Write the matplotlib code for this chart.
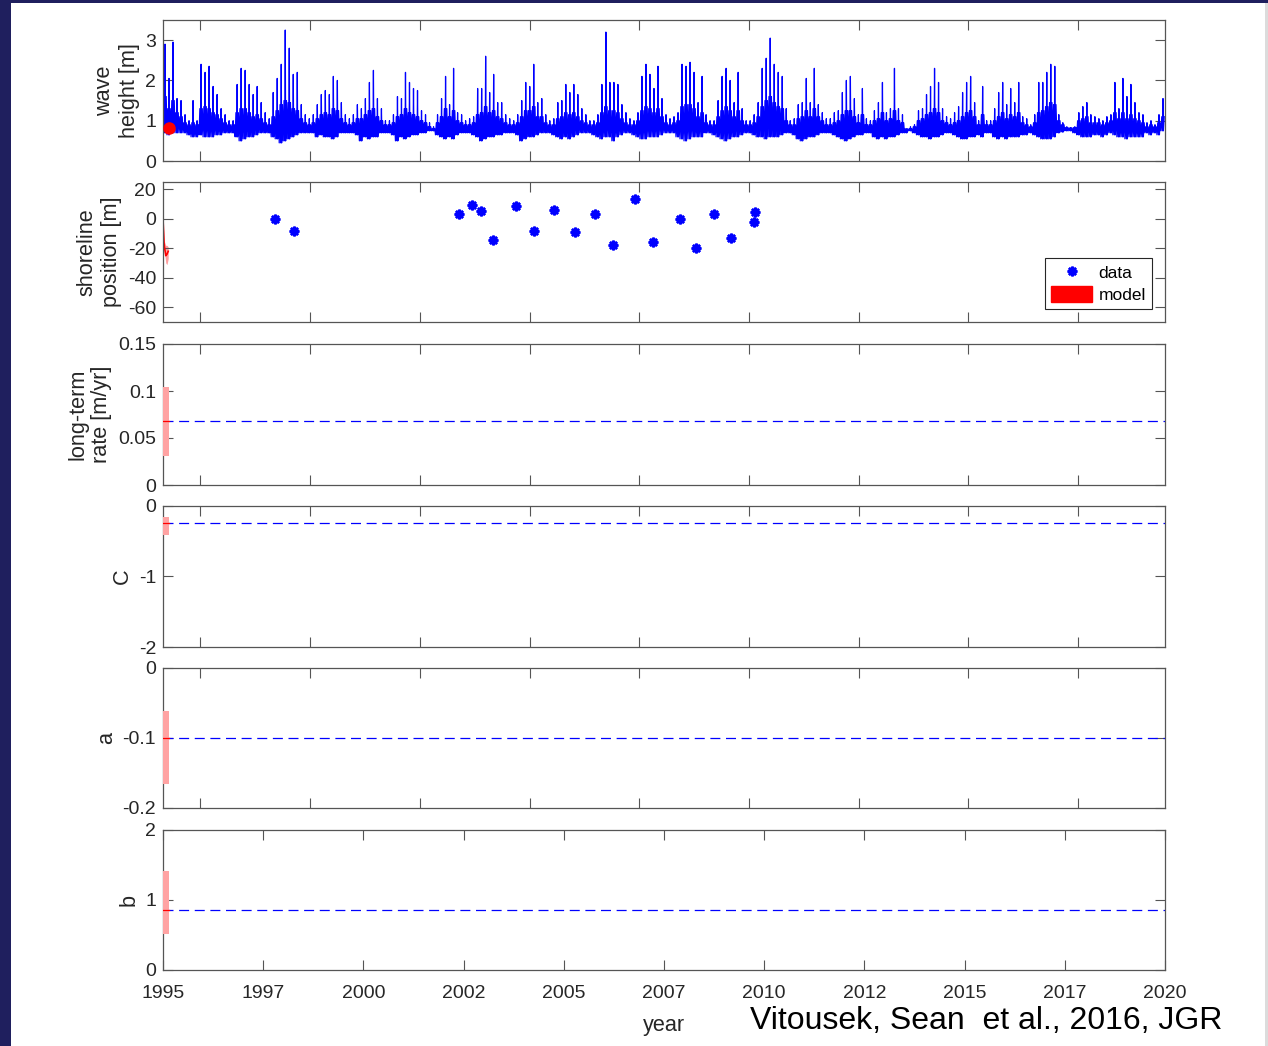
import matplotlib
matplotlib.use('Agg')
import matplotlib.pyplot as plt
from matplotlib.patches import Rectangle, Patch
from matplotlib.lines import Line2D
from matplotlib.ticker import FuncFormatter
import numpy as np

plt.rcParams['font.family'] = ['Liberation Sans', 'DejaVu Sans']

# ---------------- data ----------------
# wave height, read per 0.1-year bin (1995.0 ... 2019.9): spike top, top of dense band, bottom
bin_start = 1995.0
bin_width = 0.1
hs_high = [
    2.9, 2.05, 2.95, 1.55, 1.5, 1.15, 1.0, 1.5, 1.0, 2.4,
    2.2, 2.35, 1.85, 1.65, 1.3, 1.15, 1.0, 1.0, 1.9, 2.3,
    2.25, 1.9, 1.65, 1.85, 1.45, 1.2, 1.05, 1.7, 2.05, 2.4,
    3.25, 2.8, 2.15, 2.2, 1.4, 1.15, 1.05, 1.15, 1.4, 1.65,
    1.75, 1.65, 2.1, 2.0, 1.45, 1.15, 1.05, 1.15, 1.4, 1.3,
    1.55, 1.95, 2.25, 1.55, 1.3, 1.0, 1.0, 1.15, 1.6, 1.55,
    2.2, 1.95, 1.8, 1.75, 1.25, 1.15, 0.95, 0.85, 1.15, 1.55,
    2.1, 1.4, 2.3, 1.2, 1.15, 1.0, 1.05, 1.1, 1.8, 1.8,
    2.6, 1.7, 2.15, 1.45, 1.45, 1.15, 1.05, 1.0, 1.15, 1.5,
    1.95, 1.85, 2.4, 1.45, 1.55, 1.15, 1.0, 1.05, 1.45, 1.5,
    1.9, 1.7, 1.9, 1.65, 1.3, 1.15, 1.0, 1.0, 1.15, 1.9,
    3.2, 1.95, 1.95, 1.9, 1.4, 1.2, 1.05, 1.0, 1.2, 2.1,
    2.4, 2.15, 1.8, 2.35, 1.55, 1.15, 1.05, 1.1, 1.2, 2.4,
    2.35, 2.45, 2.2, 1.45, 2.1, 1.15, 1.0, 1.0, 1.5, 2.1,
    2.3, 2.0, 1.45, 2.2, 1.3, 1.0, 1.0, 1.15, 1.45, 2.3,
    2.55, 3.05, 2.4, 2.2, 2.1, 1.3, 1.0, 1.05, 1.4, 1.45,
    2.05, 1.45, 2.3, 1.4, 1.2, 1.05, 1.05, 1.2, 1.25, 1.7,
    2.0, 2.1, 1.55, 1.15, 1.8, 1.05, 1.0, 1.25, 1.45, 1.95,
    1.2, 1.3, 2.3, 1.3, 1.15, 0.8, 0.85, 0.9, 1.25, 1.3,
    1.65, 1.85, 2.3, 1.95, 1.3, 1.1, 1.05, 1.2, 1.35, 1.7,
    1.95, 2.1, 1.45, 1.0, 1.85, 1.0, 1.0, 1.3, 1.7, 1.95,
    1.4, 1.8, 1.45, 1.95, 1.1, 1.05, 0.9, 1.15, 1.95, 1.95,
    2.2, 2.4, 2.35, 1.15, 0.95, 0.85, 0.83, 0.85, 1.2, 1.35,
    1.45, 1.15, 1.1, 1.05, 1.0, 1.1, 1.15, 1.95, 1.3, 2.05,
    1.6, 1.9, 1.45, 1.2, 1.15, 0.95, 1.0, 0.9, 1.15, 1.55,
]
hs_core = [
    1.6, 1.3, 1.5, 1.2, 1.1, 0.95, 0.9, 0.95, 0.9, 1.3,
    1.35, 1.3, 1.2, 1.15, 1.05, 0.95, 0.9, 0.9, 1.2, 1.3,
    1.3, 1.2, 1.1, 1.15, 1.05, 0.95, 0.9, 1.1, 1.25, 1.4,
    1.5, 1.45, 1.3, 1.25, 1.05, 0.95, 0.9, 0.95, 1.05, 1.15,
    1.2, 1.15, 1.3, 1.25, 1.05, 0.95, 0.9, 0.95, 1.05, 1.05,
    1.15, 1.25, 1.3, 1.1, 1.0, 0.9, 0.9, 0.95, 1.1, 1.15,
    1.3, 1.2, 1.15, 1.1, 1.0, 0.95, 0.85, 0.8, 0.95, 1.1,
    1.3, 1.1, 1.25, 1.0, 0.95, 0.9, 0.9, 0.95, 1.15, 1.2,
    1.35, 1.2, 1.25, 1.1, 1.05, 0.95, 0.9, 0.9, 0.95, 1.1,
    1.25, 1.25, 1.35, 1.1, 1.1, 0.95, 0.9, 0.9, 1.05, 1.1,
    1.2, 1.15, 1.2, 1.1, 1.0, 0.95, 0.9, 0.9, 0.95, 1.2,
    1.35, 1.25, 1.25, 1.2, 1.05, 0.95, 0.9, 0.9, 1.0, 1.25,
    1.35, 1.3, 1.2, 1.3, 1.1, 0.95, 0.9, 0.95, 1.0, 1.35,
    1.4, 1.4, 1.3, 1.1, 1.2, 0.95, 0.9, 0.9, 1.1, 1.25,
    1.35, 1.25, 1.1, 1.25, 1.0, 0.9, 0.9, 0.95, 1.1, 1.35,
    1.5, 1.6, 1.45, 1.35, 1.3, 1.0, 0.9, 0.9, 1.05, 1.1,
    1.25, 1.1, 1.3, 1.1, 1.0, 0.9, 0.9, 0.95, 1.0, 1.15,
    1.25, 1.25, 1.1, 0.95, 1.15, 0.9, 0.9, 1.0, 1.05, 1.2,
    1.0, 1.05, 1.25, 1.0, 0.95, 0.8, 0.8, 0.85, 1.0, 1.05,
    1.15, 1.2, 1.3, 1.2, 1.0, 0.95, 0.9, 0.95, 1.0, 1.1,
    1.2, 1.25, 1.1, 0.9, 1.15, 0.9, 0.9, 1.0, 1.1, 1.2,
    1.05, 1.15, 1.1, 1.2, 0.95, 0.9, 0.85, 0.95, 1.2, 1.25,
    1.35, 1.45, 1.4, 1.0, 0.9, 0.83, 0.82, 0.83, 1.0, 1.05,
    1.1, 0.95, 0.95, 0.95, 0.9, 0.95, 1.0, 1.2, 1.05, 1.2,
    1.05, 1.15, 1.05, 1.0, 0.95, 0.85, 0.9, 0.85, 0.95, 1.1,
]
hs_low = [
    0.7, 0.65, 0.7, 0.7, 0.7, 0.7, 0.65, 0.6, 0.6, 0.65,
    0.6, 0.6, 0.6, 0.65, 0.65, 0.7, 0.7, 0.7, 0.6, 0.5,
    0.55, 0.6, 0.6, 0.65, 0.7, 0.7, 0.7, 0.6, 0.55, 0.45,
    0.5, 0.55, 0.6, 0.65, 0.7, 0.7, 0.7, 0.7, 0.6, 0.65,
    0.6, 0.6, 0.55, 0.6, 0.7, 0.7, 0.7, 0.7, 0.65, 0.5,
    0.6, 0.55, 0.6, 0.6, 0.7, 0.7, 0.7, 0.65, 0.5, 0.6,
    0.55, 0.6, 0.65, 0.65, 0.7, 0.7, 0.75, 0.75, 0.65, 0.6,
    0.55, 0.6, 0.55, 0.65, 0.7, 0.7, 0.7, 0.65, 0.6, 0.5,
    0.55, 0.6, 0.6, 0.65, 0.65, 0.7, 0.7, 0.7, 0.65, 0.5,
    0.55, 0.6, 0.6, 0.65, 0.7, 0.7, 0.7, 0.65, 0.6, 0.55,
    0.6, 0.55, 0.6, 0.65, 0.7, 0.7, 0.7, 0.65, 0.6, 0.55,
    0.6, 0.6, 0.5, 0.6, 0.65, 0.7, 0.7, 0.65, 0.6, 0.55,
    0.55, 0.6, 0.6, 0.6, 0.65, 0.7, 0.7, 0.7, 0.6, 0.55,
    0.5, 0.55, 0.6, 0.6, 0.6, 0.7, 0.7, 0.65, 0.6, 0.55,
    0.5, 0.55, 0.6, 0.6, 0.65, 0.7, 0.7, 0.65, 0.6, 0.6,
    0.55, 0.6, 0.6, 0.6, 0.65, 0.7, 0.7, 0.65, 0.55, 0.5,
    0.55, 0.6, 0.6, 0.65, 0.7, 0.7, 0.7, 0.65, 0.6, 0.55,
    0.5, 0.55, 0.6, 0.65, 0.65, 0.7, 0.7, 0.6, 0.55, 0.6,
    0.55, 0.6, 0.6, 0.65, 0.7, 0.7, 0.75, 0.7, 0.65, 0.6,
    0.6, 0.55, 0.6, 0.6, 0.65, 0.7, 0.7, 0.65, 0.6, 0.55,
    0.55, 0.6, 0.6, 0.65, 0.6, 0.7, 0.7, 0.6, 0.55, 0.6,
    0.55, 0.6, 0.6, 0.6, 0.65, 0.65, 0.7, 0.65, 0.6, 0.55,
    0.55, 0.55, 0.6, 0.7, 0.72, 0.75, 0.75, 0.7, 0.65, 0.6,
    0.6, 0.6, 0.65, 0.65, 0.6, 0.65, 0.7, 0.65, 0.6, 0.6,
    0.55, 0.6, 0.6, 0.6, 0.6, 0.7, 0.65, 0.7, 0.65, 0.75,
]

# shoreline observations
shore_years = [1997.80, 1998.27, 2002.38, 2002.70, 2002.93, 2003.24, 2003.81,
               2004.26, 2004.75, 2005.27, 2005.79, 2006.23, 2006.78, 2007.22,
               2007.89, 2008.29, 2008.74, 2009.18, 2009.77, 2009.75]
shore_values = [0.1, -8.3, 3.1, 9.6, 5.3, -14.6, 8.7, -8.0, 6.0, -8.9, 3.1,
                -17.6, 13.7, -15.9, 0.1, -20.0, 3.1, -13.0, 4.6, -2.0]

# model state (animation frame just after start)
model_now = 1995.15
wave_now = 0.82
model_t = [1995.0, 1995.03, 1995.07, 1995.10, 1995.13]
model_shore = [0.0, -18.0, -25.0, -24.0, -22.0]
model_shore_lo = [0.0, -21.0, -30.0, -31.0, -27.0]
model_shore_hi = [0.0, -15.0, -18.0, -18.0, -19.0]

param_t = [1995.0, 1995.14]
rate_true, rate_lo, rate_hi = 0.068, 0.031, 0.104
C_true, C_lo, C_hi = -0.24, -0.41, -0.15
a_true, a_lo, a_hi = -0.10, -0.166, -0.061
b_true, b_lo, b_hi = 0.855, 0.51, 1.42

bottom_ticks = [1995, 1997.5, 2000, 2002.5, 2005, 2007.5, 2010, 2012.5, 2015, 2017.5, 2020]
bottom_labels = ['1995', '1997', '2000', '2002', '2005', '2007', '2010', '2012', '2015', '2017', '2020']
top_tick_days = [340, 1340, 2340, 3340, 4340, 5340, 6340, 7340, 8340]  # datenum multiples of 1000

# ---------------- figure ----------------
W, H = 1268, 1046
fig = plt.figure(figsize=(W / 100, H / 100), dpi=100)
fig.patch.set_facecolor('white')
navy = '#1f1f5e'
fig.add_artist(Rectangle((0, 0), 11 / W, 1, transform=fig.transFigure, color=navy, lw=0))
fig.add_artist(Rectangle((0, 1 - 3 / H), 1, 3 / H, transform=fig.transFigure, color=navy, lw=0))
fig.add_artist(Rectangle((1 - 3 / W, 0), 3 / W, 1 - 3 / H, transform=fig.transFigure, color='#dcdcdc', lw=0))

rows = [(20, 161), (182, 322), (344, 485), (506, 647), (668, 808), (830, 970)]
left = 163 / W
width = 1002 / W
axes = []
for top, bot in rows:
    ax = fig.add_axes([left, 1 - bot / H, width, (bot - top) / H])
    axes.append(ax)

tc = '#262626'
spine_c = '#555555'
top_ticks = [1995 + d / 365.25 for d in top_tick_days]
gfmt = FuncFormatter(lambda v, p: ('%g' % v) if abs(v) > 1e-12 else '0')

for i, ax in enumerate(axes):
    ax.set_xlim(1995, 2020)
    for s in ax.spines.values():
        s.set_color(spine_c)
        s.set_linewidth(0.9)
    ax.tick_params(direction='in', length=7, width=0.8, color=spine_c,
                   top=True, right=True, labelsize=14, labelcolor=tc, pad=5)
    ax.yaxis.set_major_formatter(gfmt)
    if i < 5:
        ax.set_xticks(top_ticks)
        ax.set_xticklabels([])
    else:
        ax.set_xticks(bottom_ticks)
        ax.set_xticklabels(bottom_labels)
        ax.tick_params(axis='x', pad=11)

lab_kw = dict(fontsize=15.6, color=tc, labelpad=4, linespacing=1.2)

# wave height
ax = axes[0]
xs, ys = [], []
w = bin_width
for i in range(len(hs_high)):
    t0 = bin_start + i * w
    xs += [t0, t0 + 0.2 * w, t0 + 0.4 * w, t0 + 0.5 * w, t0 + 0.6 * w, t0 + 0.8 * w]
    ys += [hs_low[i], hs_core[i], hs_low[i], hs_high[i], hs_low[i], hs_core[i]]
ax.plot(xs, ys, color='#0000ff', lw=0.9)
ax.plot([model_now], [wave_now], 'o', color='red', ms=8, mec='red', zorder=5)
ax.set_ylim(0, 3.5)
ax.set_yticks([0, 1, 2, 3])
ax.set_ylabel('wave\nheight [m]', **lab_kw)

# shoreline
ast = (8, 2, 0)
ax = axes[1]
ax.fill_between(model_t, model_shore_lo, model_shore_hi, color='#ff9f9f', lw=0)
ax.plot(model_t, model_shore, color='red', lw=1.2)
ax.plot(shore_years, shore_values, ls='none', marker=ast, color='#0000ff', ms=7, mew=1.8)
ax.set_ylim(-70, 25)
ax.set_yticks([-60, -40, -20, 0, 20])
ax.set_ylabel('shoreline\nposition [m]', **lab_kw)
handles = [Line2D([], [], ls='none', marker=ast, color='#0000ff', ms=7, mew=1.8),
           Patch(facecolor='red', edgecolor='red')]
leg = ax.legend(handles, ['data', 'model'], loc='lower right', bbox_to_anchor=(0.987, 0.093),
                borderaxespad=0, fontsize=12.5, handlelength=2.4, handleheight=1.0,
                handletextpad=0.35, borderpad=0.35, labelspacing=0.3, fancybox=False,
                framealpha=1, edgecolor=tc)
leg.get_frame().set_linewidth(0.8)

# parameter panels
params = [
    (axes[2], rate_true, rate_lo, rate_hi, (0, 0.15), [0, 0.05, 0.1, 0.15], 'long-term\nrate [m/yr]'),
    (axes[3], C_true, C_lo, C_hi, (-2, 0), [-2, -1, 0], 'C'),
    (axes[4], a_true, a_lo, a_hi, (-0.2, 0), [-0.2, -0.1, 0], 'a'),
    (axes[5], b_true, b_lo, b_hi, (0, 2), [0, 1, 2], 'b'),
]
for ax, tv, lo, hi, yl, yt, lab in params:
    ax.plot([1995, 2020], [tv, tv], color='#0000ff', lw=0.9, dashes=(8, 4.5))
    ax.fill_between(param_t, [lo, lo], [hi, hi], color='#ffa3a3', lw=0, zorder=3)
    ax.plot(param_t, [tv, tv], color='red', lw=0.9, zorder=4)
    ax.set_ylim(*yl)
    ax.set_yticks(yt)
    ax.set_ylabel(lab, **lab_kw)

axes[5].set_xlabel('year', fontsize=15.6, color=tc, labelpad=9)

fig.text(1222 / W, 1 - 1021 / H, 'Vitousek, Sean  et al., 2016, JGR', ha='right', va='center',
         fontsize=23, color='black')

fig.savefig('out.png', dpi=100)
